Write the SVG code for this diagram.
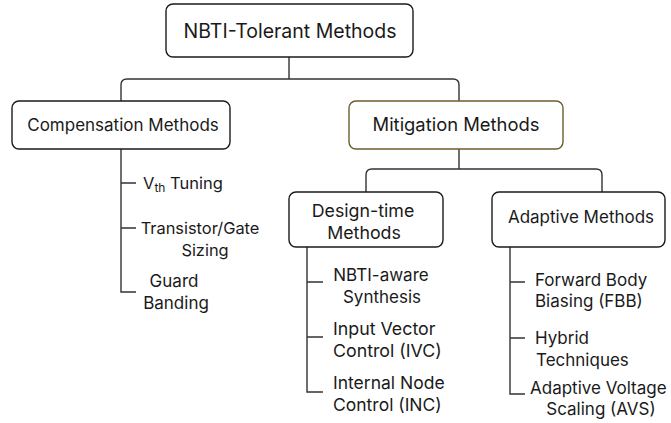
<svg xmlns="http://www.w3.org/2000/svg" width="671" height="423" viewBox="0 0 671 423">
<style>
.box{fill:#fff;stroke:#1a1a1a;stroke-width:1.4}
.olive{stroke:#6b5d2e}
.t{font-family:Inter,"Liberation Sans",sans-serif;fill:#1a1a1a}
.h1{font-size:19.5px}
.h2{font-size:17px}
.s{font-size:17px}
.c{text-anchor:middle}
.con{fill:none;stroke:#333;stroke-width:1.4}
</style>
<rect width="671" height="423" fill="#fff"/>
<g id="connectors">
<path class="con" d="M289,57 V79 M121,101 V85 Q121,79 127,79 H453 Q459,79 459,85 V101"/>
<path class="con" d="M459,149 V169 M366,192 V175 Q366,169 372,169 H596 Q602,169 602,175 V192"/>
<path class="con" d="M121,149 V292 H136 M121,183 H136 M121,228 H136"/>
<path class="con" d="M307,247 V392 H323 M307,282 H323 M307,337 H323"/>
<path class="con" d="M510,247 V394 H525 M510,282 H525 M510,338 H525"/>
</g>
<g id="root"><rect class="box" x="166" y="4" width="247" height="53" rx="7"/><text class="t h1 c" x="290" y="38">NBTI-Tolerant Methods</text></g>
<g id="compensation"><rect class="box" x="12" y="101" width="218" height="48" rx="7"/><text class="t h2 c" x="123" y="131">Compensation Methods</text></g>
<g id="mitigation"><rect class="box olive" x="349" y="101" width="214" height="48" rx="7"/><text class="t c" font-size="18.4" x="456" y="131">Mitigation Methods</text></g>
<g id="designtime"><rect class="box" x="289" y="192" width="154" height="55" rx="7"/><text class="t c" font-size="17.8" x="363" y="217">Design-time</text><text class="t c" font-size="17.8" x="364" y="239">Methods</text></g>
<g id="adaptive"><rect class="box" x="492" y="192" width="173" height="55" rx="7"/><text class="t h2 c" x="581" y="223">Adaptive Methods</text></g>
<g id="vth"><text class="t" font-size="16.5" x="143" y="189">V<tspan font-size="12" dy="3">th</tspan><tspan dy="-3"> Tuning</tspan></text></g>
<g id="sizing"><text class="t c" font-size="16.4" x="200" y="234">Transistor/Gate</text><text class="t c" font-size="16.4" x="205" y="256">Sizing</text></g>
<g id="guard"><text class="t s c" x="174" y="287">Guard</text><text class="t s c" x="176" y="309">Banding</text></g>
<g id="nbtiaware"><text class="t s c" x="381" y="281">NBTI-aware</text><text class="t s c" x="382" y="303">Synthesis</text></g>
<g id="ivc"><text class="t" font-size="17.8" x="333" y="335">Input Vector</text><text class="t" font-size="17.8" x="333" y="357">Control (IVC)</text></g>
<g id="inc"><text class="t" font-size="17.5" x="333" y="389">Internal Node</text><text class="t" font-size="17.5" x="333" y="411">Control (INC)</text></g>
<g id="fbb"><text class="t s" x="535" y="286">Forward Body</text><text class="t s" x="535" y="307">Biasing (FBB)</text></g>
<g id="hybrid"><text class="t s" x="535" y="344">Hybrid</text><text class="t s" x="536" y="366">Techniques</text></g>
<g id="avs"><text class="t s" x="530" y="394">Adaptive Voltage</text><text class="t s c" x="601" y="415">Scaling (AVS)</text></g>
</svg>
